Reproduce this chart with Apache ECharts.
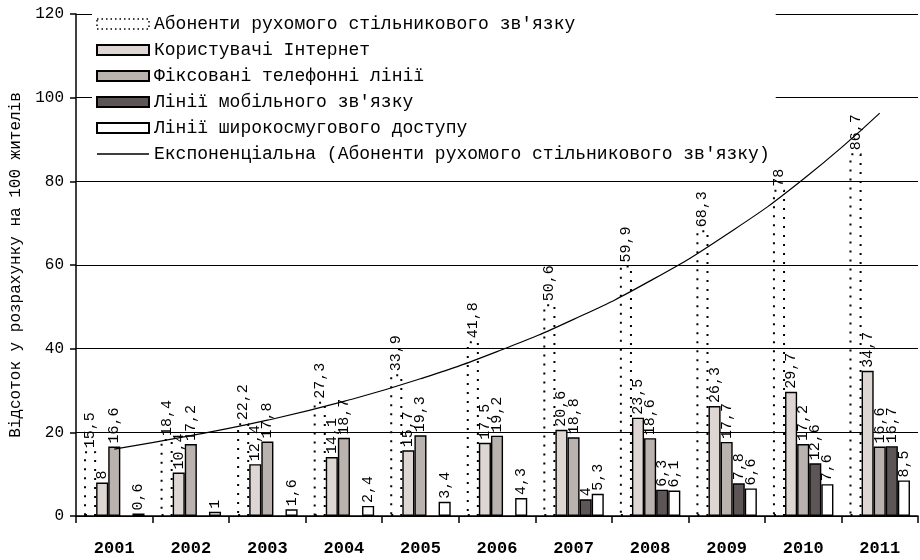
<!DOCTYPE html>
<html>
<head>
<meta charset="utf-8">
<script src="https://cdn.jsdelivr.net/npm/echarts@6/dist/echarts.min.js"></script>
<style>
  html, body { margin: 0; padding: 0; background: #fff; }
  #chart { width: 920px; height: 560px; }
</style>
</head>
<body>
<div id="chart"></div>
<script>
// Telecom indicators per 100 inhabitants, 2001–2011
const years = ['2001', '2002', '2003', '2004', '2005', '2006', '2007', '2008', '2009', '2010', '2011'];
const mobileSubscribers = [15.5, 18.4, 22.2, 27.3, 33.9, 41.8, 50.6, 59.9, 68.3, 78, 86.7];
const internetUsers = [8, 10.4, 12.4, 14.1, 15.7, 17.5, 20.6, 23.5, 26.3, 29.7, 34.7];
const fixedLines = [16.6, 17.2, 17.8, 18.7, 19.3, 19.2, 18.8, 18.6, 17.7, 17.2, 16.6];
const mobileLines = [null, null, null, null, null, null, 4, 6.3, 7.8, 12.6, 16.7];
const broadbandLines = [0.6, 1, 1.6, 2.4, 3.4, 4.3, 5.3, 6.1, 6.6, 7.6, 8.5];
// exponential trend of mobile subscribers
const mobileTrend = [16.0, 19.2, 22.9, 27.4, 32.8, 39.3, 47.0, 56.2, 67.3, 80.5, 96.3];
const yTicks = { min: 0, max: 120, step: 20 };

const FONT = 'Liberation Mono';

const names = [
  'Абоненти рухомого стільникового зв\'язку',
  'Користувачі Інтернет',
  'Фіксовані телефонні лінії',
  'Лінії мобільного зв\'язку',
  'Лінії широкосмугового доступу',
  'Експоненціальна (Абоненти рухомого стільникового зв\'язку)'
];

const valueLabel = {
  show: true,
  position: 'top',
  rotate: 90,
  align: 'left',
  verticalAlign: 'middle',
  distance: 3,
  fontFamily: FONT,
  fontSize: 15,
  color: '#000',
  formatter: p => (p.value == null ? '' : String(p.value).replace('.', ','))
};

function barSeries(name, data, fill, extra) {
  return Object.assign({
    name: name,
    type: 'bar',
    data: data,
    barGap: '0%',
    barCategoryGap: '21%',
    itemStyle: { color: fill, borderColor: '#000', borderWidth: 1.4 },
    label: valueLabel,
    emphasis: { disabled: true }
  }, extra || {});
}

// thin horizontal stroke icon (tiny corner dots keep the 52x10 box)
const lineIcon = 'path://M0,0L0.01,0L0.01,0.01ZM0,4.2H52V5.8H0ZM52,10L51.99,10L51.99,9.99Z';

const boxStyle = { borderColor: '#000', borderWidth: 2 };

const chart = echarts.init(document.getElementById('chart'), null, { renderer: 'canvas' });

chart.setOption({
  animation: false,
  backgroundColor: '#fff',
  grid: { left: 75, right: 2, top: 14, bottom: 44 },
  legend: {
    orient: 'vertical',
    left: 92,
    top: 9,
    backgroundColor: '#fff',
    padding: [6, 6, 6, 4],
    itemGap: 8,
    itemWidth: 52,
    itemHeight: 10,
    icon: 'rect',
    data: [
      { name: names[0], icon: 'rect', itemStyle: { color: 'rgba(255,255,255,0)', borderColor: '#000', borderWidth: 1.5, borderType: [1.5, 3] } },
      { name: names[1], icon: 'rect', itemStyle: boxStyle },
      { name: names[2], icon: 'rect', itemStyle: boxStyle },
      { name: names[3], icon: 'rect', itemStyle: boxStyle },
      { name: names[4], icon: 'rect', itemStyle: boxStyle },
      { name: names[5], icon: lineIcon, itemStyle: { color: '#000', borderWidth: 0 } }
    ],
    textStyle: { fontFamily: FONT, fontSize: 18, color: '#000' }
  },
  xAxis: {
    type: 'category',
    data: years,
    boundaryGap: true,
    axisLine: { lineStyle: { color: '#000', width: 1.5 } },
    axisTick: { show: true, length: 7, lineStyle: { color: '#000', width: 1.5 } },
    axisLabel: { margin: 24, fontFamily: FONT, fontSize: 17, fontWeight: 'bold', color: '#000' }
  },
  yAxis: {
    type: 'value',
    min: yTicks.min,
    max: yTicks.max,
    interval: yTicks.step,
    name: 'Відсоток у розрахунку на 100 жителів',
    nameLocation: 'middle',
    nameGap: 52,
    nameTextStyle: { fontFamily: FONT, fontSize: 16, color: '#000' },
    axisLine: { show: true, lineStyle: { color: '#000', width: 1.5 } },
    axisTick: { show: true, length: 6, lineStyle: { color: '#000', width: 1.5 } },
    axisLabel: { margin: 12, fontFamily: FONT, fontSize: 16, color: '#000' },
    splitLine: { show: true, lineStyle: { color: '#000', width: 1.2 } }
  },
  series: [
    barSeries(names[0], mobileSubscribers, 'rgba(255,255,255,0)', {
      itemStyle: { color: 'rgba(255,255,255,0)', borderColor: '#000', borderWidth: 2, borderType: [2, 7] }
    }),
    barSeries(names[1], internetUsers, '#ddd6d3'),
    barSeries(names[2], fixedLines, '#bab2ae'),
    barSeries(names[3], mobileLines, '#5e5656'),
    barSeries(names[4], broadbandLines, '#ffffff'),
    {
      name: names[5],
      type: 'line',
      data: mobileTrend,
      smooth: true,
      symbol: 'none',
      z: 5,
      lineStyle: { color: '#000', width: 1.2 },
      itemStyle: { color: '#000' },
      emphasis: { disabled: true }
    }
  ]
});
</script>
</body>
</html>
